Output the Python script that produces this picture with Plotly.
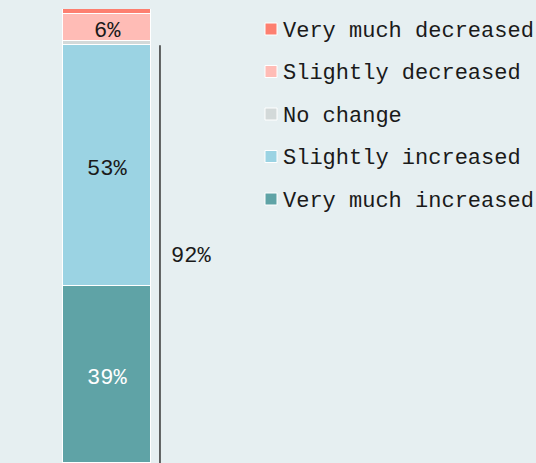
import plotly.graph_objects as go

categories = ["Very much increased", "Slightly increased", "No change",
              "Slightly decreased", "Very much decreased"]
values = [39, 53, 1, 6, 1]
labels = ["39%", "53%", "", "6%", ""]
colors = ["#5fa3a6", "#9bd3e3", "#d3d9d9", "#ffbcb6", "#fd7f70"]
text_colors = ["#ffffff", "#1a1a1a", "#1a1a1a", "#1a1a1a", "#1a1a1a"]
bracket_label = "92%"
bracket_value = 92

W, H = 536, 463
TOP = 9
PLOT_H = H - TOP
FONT = "Liberation Mono"
FS = 22
BG = "#e6eff1"
YS = -4  # visual centering correction for text

fig = go.Figure()
base = 0
for cat, v, lab, c, tc in zip(categories, values, labels, colors, text_colors):
    fig.add_trace(go.Bar(
        x=[0], y=[v], name=cat,
        marker=dict(color=c, line=dict(color="#ffffff", width=1.5)),
        width=1, showlegend=False, hoverinfo="skip",
    ))
    if lab:
        fig.add_annotation(x=0, y=base + v / 2, xref="x", yref="y", text=lab,
                           showarrow=False, yshift=YS,
                           font=dict(family=FONT, size=FS, color=tc))
    base += v

# bracket for increased total
fig.add_shape(type="line", xref="x", yref="y", x0=0.602, x1=0.602,
              y0=0, y1=bracket_value, line=dict(color="#333333", width=1.5))
fig.add_annotation(x=0.71, y=bracket_value / 2, xref="x", yref="y",
                   text=bracket_label, showarrow=False, xanchor="left", yshift=-2,
                   font=dict(family=FONT, size=FS, color="#1a1a1a"))

# custom legend (top item = last category)
legend_py = [29, 71.5, 114, 156.5, 199]
for i, (cat, c) in enumerate(zip(categories[::-1], colors[::-1])):
    py = legend_py[i]
    yc = (H - py) / PLOT_H
    half = 6 / PLOT_H
    fig.add_shape(type="rect", xref="paper", yref="paper",
                  x0=265 / W, x1=277 / W, y0=yc - half, y1=yc + half,
                  fillcolor=c, line=dict(color="#ffffff", width=1))
    fig.add_annotation(x=281 / W, y=yc, xref="paper", yref="paper",
                       text=cat, showarrow=False, xanchor="left", yanchor="middle",
                       yshift=-2,
                       font=dict(family=FONT, size=FS, color="#1a1a1a"))

fig.update_layout(
    barmode="stack",
    width=W, height=H,
    margin=dict(l=0, r=0, t=TOP, b=0),
    paper_bgcolor=BG, plot_bgcolor=BG,
    bargap=0,
    xaxis=dict(range=[-107 / 88, 429 / 88], visible=False, fixedrange=True),
    yaxis=dict(range=[0, 100], visible=False, fixedrange=True),
)

fig.write_html(
    "out.html",
    config={"displayModeBar": False},
    post_script="document.body.style.margin='0';document.body.style.overflow='hidden';",
)
